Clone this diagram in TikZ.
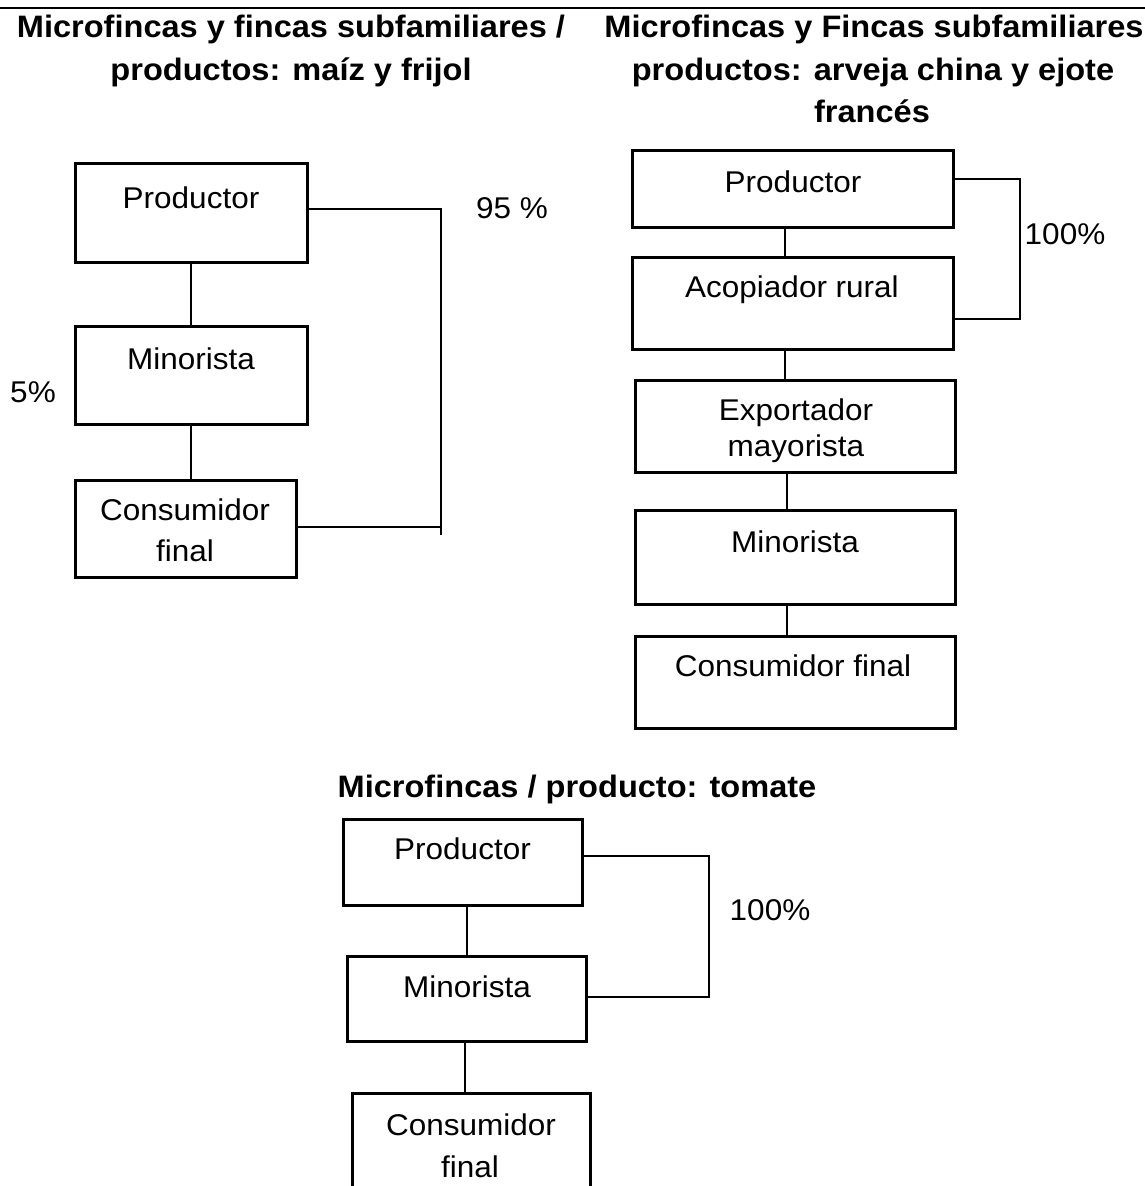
\documentclass[tikz,border=0pt]{standalone}
\usepackage{fontspec}
\setmainfont[FakeStretch=1.05]{Liberation Sans}
\begin{document}
\begin{tikzpicture}[x=1pt,y=-1pt,
  box/.style={draw, line width=3pt, inner sep=0pt, outer sep=0pt},
  lbl/.style={anchor=base, inner sep=0pt, font=\fontsize{30}{36}\selectfont},
  ttl/.style={anchor=base, inner sep=0pt, font=\fontsize{31}{36}\selectfont\bfseries},
  conn/.style={line width=2.5pt}]
\useasboundingbox (0,0) rectangle (1145,1186);
% top rule
\coordinate (TL) at (0,8);
\coordinate (TR) at (1145,8);
\draw[line width=2.5pt] (TL) -- (TR);
% titles
\node[ttl] (t1a) at (291,37) {Microfincas y fincas subfamiliares /};
\node[ttl] (t1b) at (291,80) {productos: maíz y frijol};
\node[ttl] (t2a) at (874,37) {Microfincas y Fincas subfamiliares};
\node[ttl] (t2b) at (873,80) {productos: arveja china y ejote};
\node[ttl] (t2c) at (872,122) {francés};
\node[ttl] (t3) at (577,797) {Microfincas / producto: tomate};
% left chain
\node[box, minimum width=232pt, minimum height=99pt] (LP) at (191,212.5) {};
\node[box, minimum width=232pt, minimum height=98pt] (LM) at (191,375) {};
\node[box, minimum width=221pt, minimum height=97pt] (LC) at (185.5,528.5) {};
\node[lbl] (LPt) at (191,208) {Productor};
\node[lbl] (LMt) at (191,369.5) {Minorista};
\node[lbl] (LCt1) at (185,520) {Consumidor};
\node[lbl] (LCt2) at (185,561) {final};
\draw[conn] (LP.south) -- (LM.north);
\draw[conn] (LM.south) -- (LC.north -| LM.south);
\coordinate (L1) at (441,209);
\coordinate (L2) at (441,527);
\coordinate (L3) at (441,535);
\draw[conn] (L1 -| LP.east) -- (L1) -- (L3);
\draw[conn] (L2 -| LC.east) -- (L2);
\node[lbl] (p95) at (512,218) {95 \%};
\node[lbl] (p5) at (33,402.5) {5\%};
% right chain
\node[box, minimum width=321pt, minimum height=77pt] (RP) at (792.5,188.5) {};
\node[box, minimum width=321pt, minimum height=92pt] (RA) at (792.5,303) {};
\node[box, minimum width=320pt, minimum height=92pt] (RE) at (795,426.6) {};
\node[box, minimum width=320pt, minimum height=94pt] (RM) at (795,557) {};
\node[box, minimum width=320pt, minimum height=92pt] (RC) at (795,682) {};
\node[lbl] (RPt) at (793,192) {Productor};
\node[lbl] (RAt) at (792,297) {Acopiador rural};
\node[lbl] (REt1) at (796,420) {Exportador};
\node[lbl] (REt2) at (796,456) {mayorista};
\node[lbl] (RMt) at (795,552) {Minorista};
\node[lbl] (RCt) at (793,676) {Consumidor final};
\coordinate (RX) at (785,0);
\coordinate (RY) at (787,0);
\draw[conn] (RP.south -| RX) -- (RA.north -| RX);
\draw[conn] (RA.south -| RX) -- (RE.north -| RX);
\draw[conn] (RE.south -| RY) -- (RM.north -| RY);
\draw[conn] (RM.south -| RY) -- (RC.north -| RY);
\coordinate (R1) at (1020,179);
\coordinate (R2) at (1020,319);
\draw[conn] (R1 -| RP.east) -- (R1) -- (R2) -- (R2 -| RA.east);
\node[lbl] (p100a) at (1065,244) {100\%};
% bottom chain
\node[box, minimum width=239pt, minimum height=86pt] (BP) at (462.5,862) {};
\node[box, minimum width=239pt, minimum height=85pt] (BM) at (466.5,998.5) {};
\node[box, minimum width=238pt, minimum height=107pt] (BC) at (471,1146.5) {};
\node[lbl] (BPt) at (462.5,859) {Productor};
\node[lbl] (BMt) at (467,997) {Minorista};
\node[lbl] (BCt1) at (471,1135) {Consumidor};
\node[lbl] (BCt2) at (470,1177) {final};
\coordinate (BX) at (467,0);
\coordinate (BY) at (465,0);
\draw[conn] (BP.south -| BX) -- (BM.north -| BX);
\draw[conn] (BM.south -| BY) -- (BC.north -| BY);
\coordinate (B1) at (709,856);
\coordinate (B2) at (709,997);
\draw[conn] (B1 -| BP.east) -- (B1) -- (B2) -- (B2 -| BM.east);
\node[lbl] (p100b) at (770,920) {100\%};
\end{tikzpicture}
\end{document}
